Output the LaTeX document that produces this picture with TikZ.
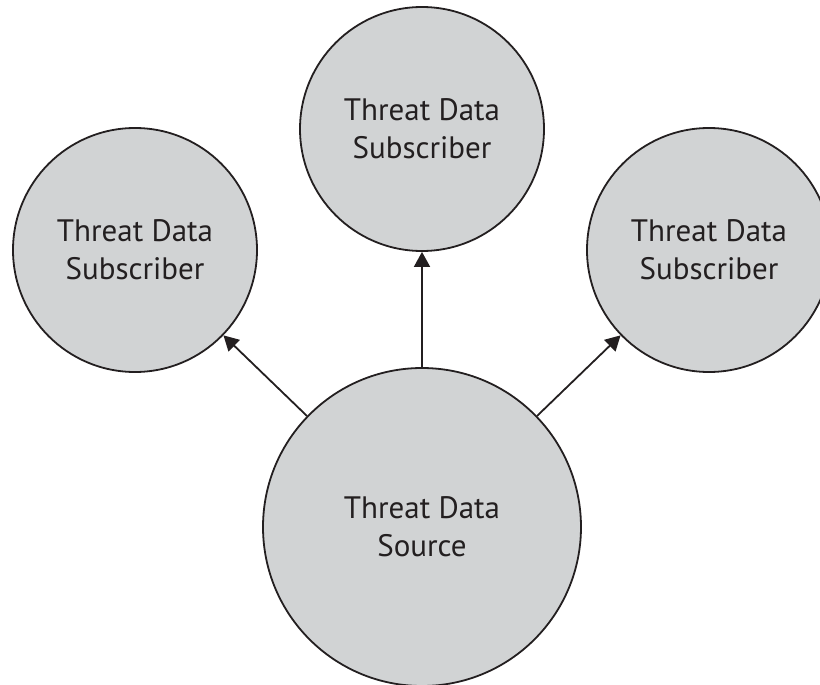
\documentclass[tikz,border=0pt]{standalone}
\usepackage{fontspec}
\setmainfont{PT Sans}
\usetikzlibrary{arrows.meta}
\definecolor{bubble}{RGB}{209,211,212}
\definecolor{ink}{RGB}{35,31,32}
\tikzset{
  bubble/.style={circle, draw=ink, line width=1.8pt, fill=bubble, inner sep=0pt,
    align=center, text=ink, font=\fontsize{31}{38}\selectfont},
  small/.style={bubble, minimum size=244pt},
  big/.style={bubble, minimum size=318pt},
  feed/.style={draw=ink, line width=1.8pt, -{Triangle[length=15pt,width=16pt]}}
}
\begin{document}
\begin{tikzpicture}[x=1pt,y=-1pt]
\useasboundingbox (0,0) rectangle (820,685);
\node[big] (src) at (422,527) {Threat Data\\Source};
\node[small] (top) at (422,129) {Threat Data\\Subscriber};
\node[small] (left) at (135,250) {Threat Data\\Subscriber};
\node[small] (right) at (709,250) {Threat Data\\Subscriber};
\draw[feed] (src) -- (left);
\draw[feed] (src) -- (top);
\draw[feed] (src) -- (right);
\end{tikzpicture}
\end{document}
